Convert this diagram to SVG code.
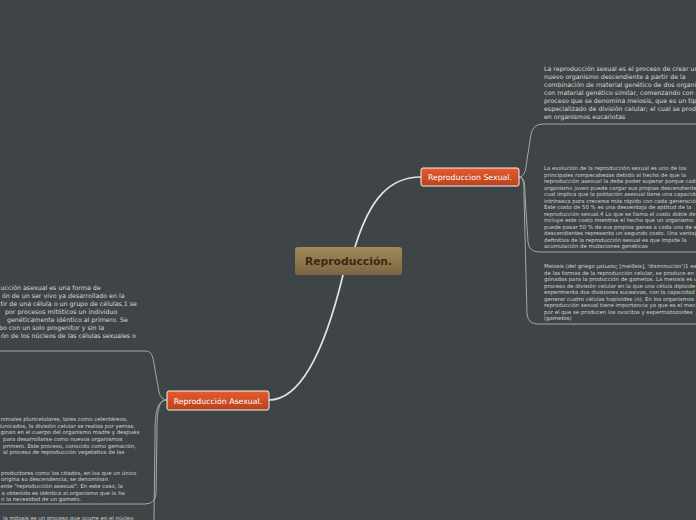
<svg xmlns="http://www.w3.org/2000/svg" width="696" height="520" viewBox="0 0 696 520">
<style>
.bg{fill:#3f4546}
.main{fill:none;stroke:#e2e4e4;stroke-width:1.7;stroke-linecap:round}
.sub{fill:none;stroke:#a3a8a8;stroke-width:1}
.t1{font-family:"DejaVu Sans",Verdana,sans-serif;font-size:6.3px;fill:#d6d9d9}
.t2{font-family:"DejaVu Sans",Verdana,sans-serif;font-size:5.4px;fill:#cdd1d1}
.node{stroke:#f4f4f4;stroke-width:1}
.nlabel{font-family:"DejaVu Sans",Verdana,sans-serif;font-size:7.8px;fill:#ffffff;text-anchor:middle}
</style>
<defs>
<linearGradient id="gOr" x1="0" y1="0" x2="0" y2="1">
<stop offset="0" stop-color="#e65b2c"/>
<stop offset="1" stop-color="#b8421e"/>
</linearGradient>
<linearGradient id="gBr" x1="0" y1="0" x2="0" y2="1">
<stop offset="0" stop-color="#a2885a"/>
<stop offset="1" stop-color="#7c6542"/>
</linearGradient>
</defs>
<rect class="bg" x="0" y="0" width="696" height="520"/>

<g id="connectors">
<path class="main" d="M355,247 C370,198 390,177 421,177"/>
<path class="main" d="M343,275 C326,345 302,400 269,400"/>
<path class="sub" d="M519,177 C525,177 526,168 527,160 L531,134 Q533,124 543,124 H696"/>
<path class="sub" d="M519,177 C525,177 525,185 525,195 L528,242 Q529,252 539,252 H696"/>
<path class="sub" d="M519,177 C524,177 524,186 524,196 L527,314 Q528,324 538,324 H696"/>
<path class="sub" d="M0,351 H146 Q151,351 153,358 L159,392 Q161,400 167,400"/>
<path class="sub" d="M167,400 C159,400 157,410 157,430 L156,494 Q155,504 145,504 H0"/>
<path class="sub" d="M167,400 C157,400 155,412 155,435 L154,520"/>
</g>

<g id="central">
<rect x="295" y="247" width="107" height="28" rx="3" fill="url(#gBr)"/>
<text x="348.5" y="265" font-family="'DejaVu Sans',Verdana,sans-serif" font-size="10.8" font-weight="bold" fill="#3d2715" text-anchor="middle">Reproducción.</text>
</g>

<g id="sexual">
<rect class="node" x="421" y="168" width="98" height="18" rx="2" fill="url(#gOr)"/>
<text class="nlabel" x="470" y="180">Reproduccion Sexual.</text>
</g>

<g id="asexual">
<rect class="node" x="167" y="391" width="102" height="19" rx="2" fill="url(#gOr)"/>
<text class="nlabel" x="218" y="403.5">Reproducción Asexual.</text>
</g>

<g id="topic-sexual-1" class="t1">
<text x="544" y="71">La reproducción sexual es el proceso de crear un</text>
<text x="544" y="79">nuevo organismo descendiente a partir de la</text>
<text x="544" y="87">combinación de material genético de dos organismos</text>
<text x="544" y="95">con material genético similar, comenzando con un</text>
<text x="544" y="103">proceso que se denomina meiosis, que es un tipo</text>
<text x="544" y="111">especializado de división celular; el cual se produce</text>
<text x="544" y="119">en organismos eucariotas</text>
</g>

<g id="topic-sexual-2" class="t2">
<text x="544" y="170">La evolución de la reproducción sexual es uno de los</text>
<text x="544" y="176.5">principales rompecabezas debido al hecho de que la</text>
<text x="544" y="183">reproducción asexual la debe poder superar porque cada</text>
<text x="544" y="189.5">organismo joven puede cargar sus propias descendientes, lo</text>
<text x="544" y="196">cual implica que la población asexual tiene una capacidad</text>
<text x="544" y="202.5">intrínseca para crecerse más rápido con cada generación.</text>
<text x="544" y="209">Este costo de 50 % es una desventaja de aptitud de la</text>
<text x="544" y="215.5">reproducción sexual.4 Lo que se llama el costo doble de</text>
<text x="544" y="222">incluye este costo mientras el hecho que un organismo</text>
<text x="544" y="228.5">puede pasar 50 % de sus propios genes a cada uno de sus</text>
<text x="544" y="235">descendientes representa un segundo costo. Una ventaja</text>
<text x="544" y="241.5">definitiva de la reproducción sexual es que impide la</text>
<text x="544" y="248">acumulación de mutaciones genéticas</text>
</g>

<g id="topic-sexual-3" class="t2">
<text x="544" y="268">Meiosis (del griego μείωσις [meíōsis], 'disminución')1 es una</text>
<text x="544" y="274.5">de las formas de la reproducción celular, se produce en las</text>
<text x="544" y="281">gónadas para la producción de gametos. La meiosis es un</text>
<text x="544" y="287.5">proceso de división celular en la que una célula diploide (2n)</text>
<text x="544" y="294">experimenta dos divisiones sucesivas, con la capacidad de</text>
<text x="544" y="300.5">generar cuatro células haploides (n). En los organismos con</text>
<text x="544" y="307">reproducción sexual tiene importancia ya que es el mecanismo</text>
<text x="544" y="313.5">por el que se producen los ovocitos y espermatozoides</text>
<text x="544" y="320">(gametos)</text>
</g>

<g id="topic-asexual-1" class="t1">
<text x="0.5" y="289.5">ucción asexual es una forma de</text>
<text x="2" y="297.6">ón de un ser vivo ya desarrollado en la</text>
<text x="0.5" y="305.7">tir de una célula o un grupo de células,1 se</text>
<text x="5" y="313.8">por procesos mitóticos un individuo</text>
<text x="7" y="321.9">genéticamente idéntico al primero. Se</text>
<text x="-1" y="330">bo con un solo progenitor y sin la</text>
<text x="1" y="338.1">ón de los núcleos de las células sexuales o</text>
</g>

<g id="topic-asexual-2" class="t2">
<text x="0.5" y="420.8">nimales pluricelulares, tales como celentéreos,</text>
<text x="-1" y="427.5">tunicados, la división celular se realiza por yemas.</text>
<text x="0.5" y="434.1">ginan en el cuerpo del organismo madre y después</text>
<text x="3" y="440.8">para desarrollarse como nuevos organismos</text>
<text x="3" y="447.5">primero. Este proceso, conocido como gemación,</text>
<text x="3" y="454.1">al proceso de reproducción vegetativa de las</text>
<text x="1" y="474.5">productores como los citados, en los que un único</text>
<text x="1" y="481.1">origina su descendencia, se denominan</text>
<text x="0.5" y="487.8">ente "reproducción asexual". En este caso, la</text>
<text x="1.5" y="494.5">a obtenida es idéntica al organismo que la ha</text>
<text x="1" y="501.1">n la necesidad de un gameto.</text>
</g>

<g id="topic-asexual-3" class="t2">
<text x="3" y="519.5">la mitosis es un proceso que ocurre en el núcleo</text>
</g>
</svg>
